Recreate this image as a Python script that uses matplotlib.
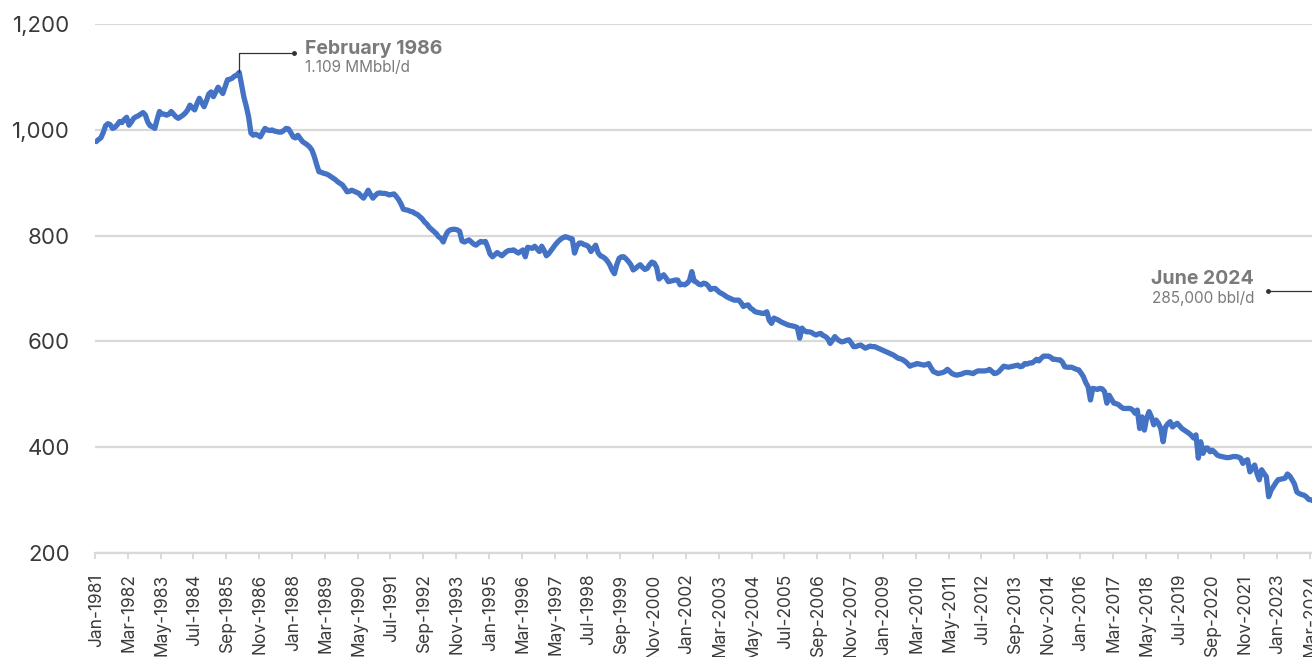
import matplotlib
matplotlib.use("Agg")
import matplotlib.pyplot as plt
import numpy as np
import pandas as pd

plt.rcParams['font.family'] = ['Inter', 'DejaVu Sans']

# Monthly crude oil production, thousand barrels per day, starting January 1981
start_month = "1981-01"
prod_1980s = [
    978, 982, 985, 995, 1008, 1012, 1010, 1003, 1005, 1010, 1016, 1014,      # 1981
    1020, 1024, 1009, 1015, 1022, 1025, 1027, 1030, 1033, 1028, 1015, 1008,  # 1982
    1006, 1003, 1020, 1035, 1030, 1030, 1028, 1030, 1035, 1030, 1025, 1022,  # 1983
    1025, 1028, 1032, 1038, 1047, 1042, 1038, 1050, 1060, 1052, 1044, 1055,  # 1984
    1068, 1072, 1063, 1072, 1081, 1075, 1069, 1082, 1095, 1096, 1098, 1102,  # 1985
    1104, 1109, 1085, 1062, 1045, 1025, 994, 990, 992, 990, 987, 995,        # 1986
    1003, 1000, 999, 1000, 998, 997, 996, 996, 999, 1003, 1002, 995,         # 1987
    987, 985, 990, 984, 978, 975, 972, 968, 962, 950, 935, 921,              # 1988
    920, 918, 917, 915, 912, 909, 906, 902, 899, 896, 890, 883,              # 1989
]
prod_1990s = [
    884, 886, 884, 882, 880, 875, 871, 878, 886, 878, 871, 876,              # 1990
    880, 881, 880, 880, 879, 877, 878, 879, 874, 868, 860, 850,              # 1991
    849, 848, 846, 845, 842, 840, 836, 832, 826, 822, 816, 812,              # 1992
    808, 804, 798, 795, 788, 800, 808, 811, 812, 812, 811, 808,              # 1993
    790, 788, 790, 792, 788, 784, 782, 786, 789, 788, 789, 778,              # 1994
    765, 760, 764, 768, 765, 762, 766, 770, 772, 772, 773, 770,              # 1995
    767, 770, 773, 760, 778, 777, 776, 780, 775, 770, 780, 772,              # 1996
    762, 766, 772, 778, 784, 789, 793, 796, 798, 797, 795, 794,              # 1997
    767, 780, 786, 786, 783, 782, 779, 770, 776, 782, 768, 762,              # 1998
    760, 757, 752, 745, 735, 728, 745, 757, 760, 760, 756, 751,              # 1999
]
prod_2000s = [
    745, 735, 738, 742, 745, 740, 736, 738, 745, 750, 748, 740,              # 2000
    718, 722, 726, 720, 713, 714, 715, 716, 716, 707, 708, 707,              # 2001
    710, 715, 732, 714, 712, 708, 707, 710, 709, 705, 698, 700,              # 2002
    700, 696, 692, 690, 687, 684, 682, 680, 678, 678, 678, 673,              # 2003
    666, 668, 669, 663, 660, 656, 655, 654, 653, 653, 656, 640,              # 2004
    634, 644, 642, 640, 637, 635, 633, 631, 630, 629, 628, 626,              # 2005
    606, 625, 620, 618, 618, 617, 614, 612, 614, 615, 611, 609,              # 2006
    605, 596, 602, 609, 604, 601, 599, 600, 602, 603, 597, 590,              # 2007
    590, 592, 593, 590, 587, 589, 591, 590, 590, 588, 586, 584,              # 2008
    582, 580, 578, 576, 574, 571, 568, 567, 565, 562, 558, 553,              # 2009
]
prod_2010s = [
    555, 556, 558, 557, 556, 555, 556, 558, 550, 543, 541, 539,              # 2010
    540, 541, 543, 547, 543, 539, 537, 536, 537, 538, 540, 541,              # 2011
    541, 540, 539, 542, 544, 544, 544, 544, 545, 547, 543, 539,              # 2012
    540, 543, 548, 553, 552, 551, 552, 553, 554, 555, 552, 553,              # 2013
    558, 557, 559, 559, 562, 566, 563, 568, 572, 572, 572, 570,              # 2014
    566, 566, 565, 565, 561, 552, 551, 551, 551, 549, 547, 546,              # 2015
    540, 533, 522, 514, 489, 511, 510, 509, 511, 510, 505, 483,              # 2016
    498, 490, 483, 482, 480, 476, 473, 473, 473, 473, 470, 464,              # 2017
    470, 435, 457, 432, 455, 467, 457, 442, 451, 445, 435, 410,              # 2018
    438, 444, 448, 438, 442, 445, 440, 435, 432, 429, 426, 422,              # 2019
]
prod_2020s = [
    417, 423, 379, 410, 388, 398, 398, 391, 394, 390, 385, 383,              # 2020
    382, 381, 380, 380, 381, 382, 382, 381, 379, 369, 374, 376,              # 2021
    353, 360, 366, 350, 338, 357, 350, 344, 306, 318, 325, 332,              # 2022
    338, 339, 340, 341, 349, 345, 338, 330, 315, 312, 310, 309,              # 2023
    306, 301, 300, 298, 293, 285,                                            # 2024
]

y_ticks = [200, 400, 600, 800, 1000, 1200]
label_every = 14  # months between axis labels

peak_title, peak_note = "February 1986", "1.109 MMbbl/d"
last_title, last_note = "June 2024", "285,000 bbl/d"

values = np.array(prod_1980s + prod_1990s + prod_2000s + prod_2010s + prod_2020s, dtype=float)
dates = pd.date_range(start_month, periods=len(values), freq="MS")
idx = np.arange(len(values))

LINE = "#4472C4"
GRID = "#D9D9D9"
NOTE = "#7A7A7A"
TEXT = "#3A3A3A"

W, H = 1312, 657
fig = plt.figure(figsize=(W / 100, H / 100), dpi=100)

# plot area in pixels; the category axis runs a little past the right edge
px_per_month = 2.345
left_px, top_px, bottom_px = 95.0, 24.3, 552.7
right_px = left_px + len(values) * px_per_month
ax = fig.add_axes([left_px / W, (H - bottom_px) / H,
                   (right_px - left_px) / W, (bottom_px - top_px) / H])

ax.plot(idx, values, color=LINE, lw=3.8, solid_joinstyle="round",
        solid_capstyle="round", zorder=3)

ax.set_xlim(-0.5, len(values) - 0.5)
ax.set_ylim(y_ticks[0], y_ticks[-1])

# value axis
ax.set_yticks(y_ticks)
ax.set_yticklabels([f"{v:,}" for v in y_ticks])
ax.yaxis.grid(True, color=GRID, lw=1.6)
ax.set_axisbelow(True)
ax.tick_params(axis="y", length=0, pad=18, labelsize=16, labelcolor=TEXT)

# category axis
lab_idx = idx[::label_every]
ax.set_xticks(lab_idx)
ax.set_xticklabels([d.strftime("%b-%Y") for d in dates[::label_every]], rotation=90)
ax.tick_params(axis="x", which="major", length=0, pad=15, labelsize=12.5, labelcolor=TEXT)
ax.set_xticks(lab_idx - 0.5, minor=True)
ax.tick_params(axis="x", which="minor", length=4, width=1.4, color=GRID)

for s in ("left", "right", "top"):
    ax.spines[s].set_visible(False)
ax.spines["bottom"].set_color(GRID)
ax.spines["bottom"].set_linewidth(1.6)

# callout for the peak month
pk = int(np.argmax(values))
pk_val = values[pk]
knee_y = 1146
ax.plot([pk, pk, pk + 23.4], [pk_val, knee_y, knee_y], color="#333333", lw=0.9,
        zorder=4, clip_on=False)
ax.plot([pk + 23.4], [knee_y], marker="o", ms=2.5, color="#333333", zorder=4,
        clip_on=False)
ax.text(pk + 28, 1143.8, peak_title, fontsize=14, fontweight="bold", color=NOTE,
        ha="left", va="baseline")
ax.text(pk + 28, 1110.3, peak_note, fontsize=11, color=NOTE,
        ha="left", va="baseline")

# callout for the latest month
last = len(values) - 1
lead_y = 695.3
ax.plot([499.6, last, last], [lead_y, lead_y, values[last]], color="#333333",
        lw=0.9, zorder=4, clip_on=False)
ax.plot([499.6], [lead_y], marker="o", ms=2.5, color="#333333", zorder=4)
ax.text(493.7, 708.5, last_title, fontsize=14, fontweight="bold", color=NOTE,
        ha="right", va="baseline")
ax.text(493.7, 672.0, last_note, fontsize=11, color=NOTE,
        ha="right", va="baseline")

fig.savefig("out.png", dpi=100)
